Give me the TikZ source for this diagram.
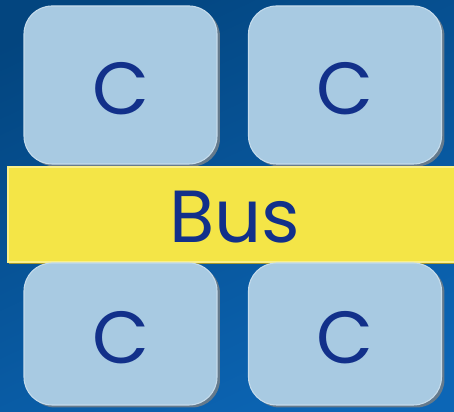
\documentclass[tikz,border=0pt]{standalone}
\usepackage{fontspec}
\setmainfont{Poppins}
\usetikzlibrary{shadows}
\definecolor{bgdark}{HTML}{03457F}
\definecolor{bglight}{HTML}{0C66B6}
\definecolor{boxfill}{HTML}{A8CAE2}
\definecolor{boxedge}{HTML}{C6DCEC}
\definecolor{boxshade}{HTML}{657A8C}
\definecolor{busfill}{HTML}{F4E547}
\definecolor{busedge}{HTML}{FBF08A}
\definecolor{busshade}{HTML}{A3962C}
\definecolor{textblue}{HTML}{12308A}

\begin{document}
\begin{tikzpicture}[every node/.style={font=\fontsize{42}{46}\selectfont, text=textblue, inner sep=0pt, text depth=0pt},
  cbox/.style={rectangle, rounded corners=0.56cm, fill=boxfill, draw=boxedge, line width=0.6pt,
    minimum width=3.86cm, text height=1.2cm, drop shadow={shadow xshift=0.06cm, shadow yshift=-0.05cm, fill=boxshade, opacity=1}},
  busbar/.style={rectangle, fill=busfill, draw=busedge, line width=0.6pt, minimum width=9.08cm, minimum height=1.9cm,
    text height=1.12cm, drop shadow={shadow xshift=0.02cm, shadow yshift=-0.05cm, fill=busshade, opacity=1}}]
  % background
  \useasboundingbox (0,0) rectangle (9.08,8.24);
  \clip (0,0) rectangle (9.08,8.24);
  \shade[top color=bgdark, bottom color=bglight, shading angle=25] (-0.5,-0.5) rectangle (9.6,8.8);
  % top cores
  \node[cbox, minimum height=3.16cm] (c1) at (2.41,6.54) {C};
  \node[cbox, minimum height=3.16cm] (c2) at (6.90,6.54) {C};
  % bus
  \node[busbar] (bus) at (4.70,3.95) {Bus};
  % bottom cores
  \node[cbox, minimum height=2.84cm] (c3) at (2.41,1.56) {C};
  \node[cbox, minimum height=2.84cm] (c4) at (6.90,1.56) {C};
\end{tikzpicture}
\end{document}
